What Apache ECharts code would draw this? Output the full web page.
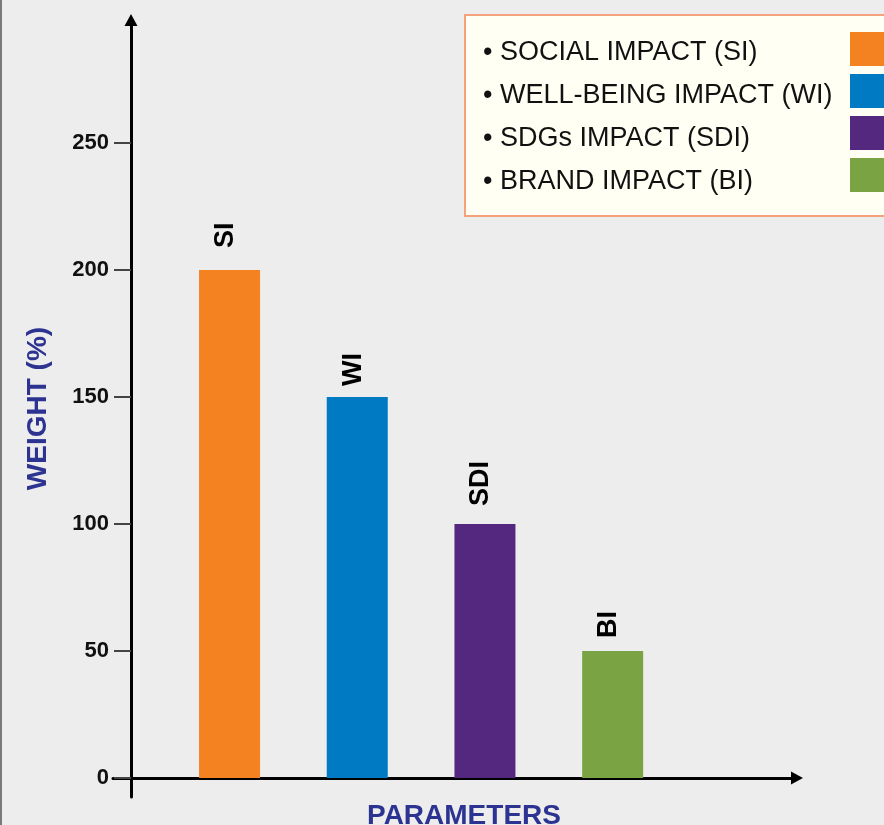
<!DOCTYPE html>
<html>
<head>
<meta charset="utf-8">
<title>Weight by parameter</title>
<script src="https://cdn.jsdelivr.net/npm/echarts@6/dist/echarts.min.js"></script>
<style>
  html, body { margin: 0; padding: 0; background: #ededed; }
  #chart { width: 884px; height: 825px; box-sizing: border-box; border-left: 2px solid #7a7a7a; }
</style>
</head>
<body>
<div id="chart"></div>
<script>
// Parameters and their weights
const categories = ['SI', 'WI', 'SDI', 'BI'];
const parameterNames = [
  'SOCIAL IMPACT (SI)',
  'WELL-BEING IMPACT (WI)',
  'SDGs IMPACT (SDI)',
  'BRAND IMPACT (BI)'
];
const weights = [200, 150, 100, 50];
const yTicks = [0, 50, 100, 150, 200, 250];

const barColors = ['#f48221', '#007ac3', '#54287f', '#7aa443'];
const labelGaps = [22, 11, 18, 13];

const FONT = '"Liberation Sans", Arial, Helvetica, sans-serif';
const TITLE_BLUE = '#2c3391';

// Shared vertical scale: 0 sits on the x axis, the y axis line dips a little below it
const plotTop = 20;
const plotBottomPx = 797;      // bottom end of the y axis line
const zeroPx = 778;            // y position of value 0
const pxPerUnit = 2.54;
const yMin = -(plotBottomPx - zeroPx) / pxPerUnit;
const yMax = (zeroPx - plotTop) / pxPerUnit;

const chart = echarts.init(document.getElementById('chart'), null, { renderer: 'canvas' });

const legendItems = [];
parameterNames.forEach(function (name, i) {
  legendItems.push({
    type: 'text',
    x: 481,
    y: 53 + i * 43,
    style: {
      text: '\u2022 ' + name,
      font: '27px ' + FONT,
      fill: '#111',
      align: 'left',
      verticalAlign: 'middle'
    }
  });
  legendItems.push({
    type: 'rect',
    shape: { x: 848, y: 32 + i * 42, width: 60, height: 34 },
    style: { fill: barColors[i] }
  });
});

const option = {
  backgroundColor: '#ededed',
  animation: false,
  grid: [
    // axes frame
    { left: 111, top: plotTop, width: 684, height: plotBottomPx - plotTop, outerBoundsMode: 'none', containLabel: false },
    // bars
    { left: 163.7, top: plotTop, width: 510.8, height: plotBottomPx - plotTop, outerBoundsMode: 'none', containLabel: false }
  ],
  xAxis: [
    {
      gridIndex: 0,
      type: 'value',
      min: -18,
      max: 666,
      splitLine: { show: false },
      axisTick: { show: false },
      axisLabel: { show: false },
      axisLine: {
        show: true,
        onZero: true,
        symbol: ['none', 'triangle'],
        symbolSize: [13, 12],
        lineStyle: { color: '#000', width: 3 }
      },
      name: 'PARAMETERS',
      nameLocation: 'middle',
      nameGap: 5,
      nameTextStyle: {
        fontFamily: FONT,
        fontSize: 28,
        fontWeight: 'bold',
        color: TITLE_BLUE,
        padding: [0, 0, 0, 18]
      }
    },
    {
      gridIndex: 1,
      type: 'category',
      data: categories,
      show: false
    }
  ],
  yAxis: [
    {
      gridIndex: 0,
      type: 'value',
      min: yMin,
      max: yMax,
      splitLine: { show: false },
      axisLine: {
        show: true,
        onZero: true,
        symbol: ['none', 'triangle'],
        symbolSize: [13, 12],
        lineStyle: { color: '#000', width: 3 }
      },
      axisTick: {
        show: true,
        customValues: yTicks,
        length: 17,
        lineStyle: { color: '#444', width: 2 }
      },
      axisLabel: {
        show: true,
        customValues: yTicks,
        margin: 4,
        fontFamily: FONT,
        fontSize: 22,
        fontWeight: 'bold',
        color: '#111'
      },
      name: 'WEIGHT (%)',
      nameLocation: 'middle',
      nameRotate: 90,
      nameGap: 61,
      nameTextStyle: {
        fontFamily: FONT,
        fontSize: 28,
        fontWeight: 'bold',
        color: TITLE_BLUE
      }
    },
    {
      gridIndex: 1,
      type: 'value',
      min: yMin,
      max: yMax,
      show: false
    }
  ],
  graphic: [
    {
      type: 'group',
      children: [
        {
          type: 'rect',
          shape: { x: 463, y: 15, width: 440, height: 201 },
          style: { fill: '#fffff3', stroke: '#f4a27c', lineWidth: 2 }
        }
      ].concat(legendItems)
    }
  ],
  series: [
    {
      type: 'bar',
      xAxisIndex: 1,
      yAxisIndex: 1,
      barWidth: 61,
      data: weights.map(function (v, i) {
        return {
          value: v,
          itemStyle: { color: barColors[i] },
          label: { distance: labelGaps[i] }
        };
      }),
      label: {
        show: true,
        position: 'top',
        rotate: 90,
        align: 'left',
        verticalAlign: 'middle',
        // offset is in the rotated text frame: negative y nudges the label left
        offset: [0, -4],
        fontFamily: FONT,
        fontSize: 27,
        fontWeight: 'bold',
        color: '#000',
        formatter: function (p) { return categories[p.dataIndex]; }
      }
    }
  ]
};

chart.setOption(option);
</script>
</body>
</html>
